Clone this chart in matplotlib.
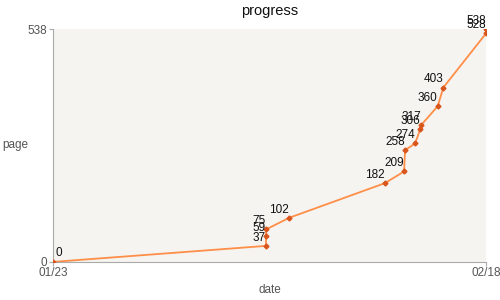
import pandas as pd
import matplotlib
matplotlib.use("Agg")
import matplotlib.pyplot as plt

plt.rcParams['font.family'] = ['Liberation Sans', 'DejaVu Sans']

# reading log (time of entry, page reached)
times = ["2020-01-23 00:00", "2020-02-04 19:00", "2020-02-04 19:00", "2020-02-04 19:00",
         "2020-02-06 04:30", "2020-02-11 22:20", "2020-02-13 02:00", "2020-02-13 03:20",
         "2020-02-13 18:00", "2020-02-14 01:00", "2020-02-14 03:00", "2020-02-15 02:30",
         "2020-02-15 10:30", "2020-02-18 00:00", "2020-02-18 00:00"]
pages = [0, 37, 59, 75, 102, 182, 209, 258, 274, 306, 317, 360, 403, 528, 538]
tick_labels = ["01/23", "02/18"]

x = pd.to_datetime(times)

fig = plt.figure(figsize=(5, 3), dpi=100)
ax = fig.add_axes([0.106, 0.127, 0.866, 0.776])
ax.set_facecolor("#f5f4f0")

ax.plot(x, pages, color="#ff8e48", lw=1.3, zorder=2)
ax.plot(x, pages, ls="none", marker="D", ms=2.5, color="#d8561c", zorder=3)

for i in range(len(pages)):
  if i == 0:
    ax.annotate(str(pages[i]), (x[i], pages[i]), xytext=(2, 2), textcoords="offset points",
                ha="left", va="bottom", fontsize=8.5, color="#111111", annotation_clip=False)
  else:
    ax.annotate(str(pages[i]), (x[i], pages[i]), xytext=(0, 1.5), textcoords="offset points",
                ha="right", va="bottom", fontsize=8.5, color="#111111", annotation_clip=False)

ax.set_xlim(x[0], x[-1])
ax.set_ylim(0, max(pages))
ax.set_xticks([x[0], x[-1]])
ax.set_xticklabels(tick_labels)
ax.set_yticks([0, max(pages)])

for s in ["top", "right"]:
  ax.spines[s].set_visible(False)
for s in ["left", "bottom"]:
  ax.spines[s].set_color("#aaaaaa")
ax.tick_params(colors="#aaaaaa", labelcolor="#555555", labelsize=8.5, length=3, width=0.8, pad=1)

ax.set_title("progress", fontsize=10.5, color="#111111", pad=10)
ax.set_xlabel("date", fontsize=8.5, color="#555555", va="center")
ax.xaxis.set_label_coords(0.5, -0.12)
ax.set_ylabel("page", fontsize=8.5, color="#555555", rotation=0, ha="center", va="center")
ax.yaxis.set_label_coords(-0.087, 0.5)

plt.savefig("out.png")
